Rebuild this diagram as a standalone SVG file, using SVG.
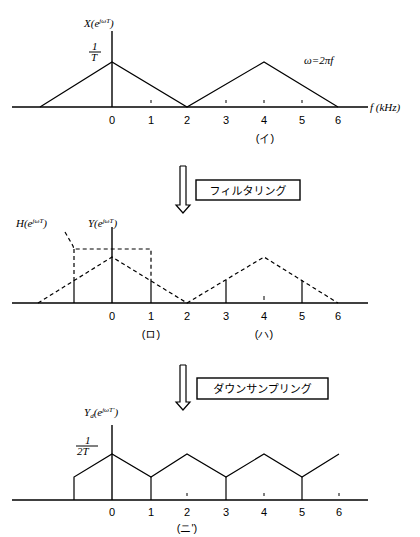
<svg xmlns="http://www.w3.org/2000/svg" width="420" height="537" viewBox="0 0 420 537">
<style>
.ax{stroke:#000;stroke-width:1.4;fill:none}
.ln{stroke:#000;stroke-width:1.2;fill:none}
.ds{stroke:#000;stroke-width:1.2;fill:none;stroke-dasharray:4,3}
.t{font-family:"Liberation Serif",serif;font-size:11px;fill:#000}
.m{font-family:"Liberation Serif",serif;font-style:italic;font-size:11px;fill:#000}
.n{font-family:"Liberation Sans",sans-serif;font-size:11px;fill:#000;text-anchor:middle}
.j{font-family:"Liberation Sans","Noto Sans CJK JP",sans-serif;font-size:11px;fill:#000}
.tk{stroke:#000;stroke-width:1}
</style>
<rect width="420" height="537" fill="#fff"/>

<g id="graph-a">
<line class="ax" x1="12" y1="107" x2="368" y2="107"/>
<line class="ax" x1="112" y1="31" x2="112" y2="107"/>
<polyline class="ln" points="40,107 112,62 187,107 264,62 338,107"/>
<g class="tk"><line x1="151" y1="100" x2="151" y2="103"/><line x1="226" y1="100" x2="226" y2="103"/><line x1="264" y1="100" x2="264" y2="103"/><line x1="302" y1="100" x2="302" y2="103"/></g>
<text class="m" x="84" y="27">X(e<tspan font-size="7" dy="-4">jωT</tspan><tspan dy="4">)</tspan></text>
<text class="m" x="92" y="50" font-size="9">1</text>
<line class="tk" x1="89" y1="52" x2="101" y2="52"/>
<text class="m" x="91" y="61" font-size="9">T</text>
<text class="m" x="304" y="64">ω=2πf</text>
<text class="m" x="370" y="111">f (kHz)</text>
<g class="n"><text x="112" y="124">0</text><text x="151" y="124">1</text><text x="187" y="124">2</text><text x="226" y="124">3</text><text x="264" y="124">4</text><text x="302" y="124">5</text><text x="338" y="124">6</text></g>
<text class="n" x="265" y="142">(イ)</text>
</g>

<g id="arrow-filter">
<path class="ln" d="M180,166 L186,166 M180,166 L180,205 L176,205 L183,213 L190,205 L186,205 L186,166"/>
<rect x="196" y="180" width="104" height="20" fill="none" stroke="#000" stroke-width="1.4"/>
<text class="j" x="248" y="194.5" text-anchor="middle">フィルタリング</text>
</g>

<g id="graph-b">
<line class="ax" x1="12" y1="303" x2="368" y2="303"/>
<line class="ax" x1="112" y1="227" x2="112" y2="303"/>
<polyline class="ds" points="38,303 112,257 187,303 264,257 338,303"/>
<polyline class="ds" points="65,232 73,246 74,249 151,249 151,280"/>
<line class="ds" x1="74" y1="249" x2="74" y2="280"/>
<g class="ln"><line x1="74" y1="280" x2="74" y2="303"/><line x1="151" y1="280" x2="151" y2="303"/><line x1="226" y1="280" x2="226" y2="303"/><line x1="302" y1="280" x2="302" y2="303"/></g>
<line class="tk" x1="264" y1="296" x2="264" y2="300"/>
<text class="m" x="16" y="227" font-size="10">H(e<tspan font-size="7" dy="-4">jωT</tspan><tspan dy="4">)</tspan></text>
<text class="m" x="88" y="227" font-size="10">Y(e<tspan font-size="7" dy="-4">jωT</tspan><tspan dy="4">)</tspan></text>
<g class="n"><text x="112" y="320">0</text><text x="151" y="320">1</text><text x="187" y="320">2</text><text x="226" y="320">3</text><text x="264" y="320">4</text><text x="302" y="320">5</text><text x="338" y="320">6</text></g>
<text class="n" x="151" y="338">(ロ)</text>
<text class="n" x="264" y="338">(ハ)</text>
</g>

<g id="arrow-down">
<path class="ln" d="M180,365 L186,365 M180,365 L180,402 L176,402 L183,410 L190,402 L186,402 L186,365"/>
<rect x="197" y="378" width="131" height="21" fill="none" stroke="#000" stroke-width="1.4"/>
<text class="j" x="262.5" y="392.5" text-anchor="middle">ダウンサンプリング</text>
</g>

<g id="graph-c">
<line class="ax" x1="12" y1="500" x2="368" y2="500"/>
<line class="ax" x1="112" y1="425" x2="112" y2="500"/>
<polyline class="ln" points="74,500 74,477 112,454 151,477 187,454 226,477 264,454 302,477 339,454"/>
<g class="ln"><line x1="151" y1="477" x2="151" y2="500"/><line x1="226" y1="477" x2="226" y2="500"/><line x1="302" y1="477" x2="302" y2="500"/></g>
<g class="tk"><line x1="187" y1="493" x2="187" y2="496"/><line x1="264" y1="493" x2="264" y2="496"/><line x1="339" y1="493" x2="339" y2="496"/></g>
<text class="m" x="84" y="416" font-size="10">Y<tspan font-size="7" dy="2">d</tspan><tspan dy="-2">(e</tspan><tspan font-size="7" dy="-4">jωT'</tspan><tspan dy="4">)</tspan></text>
<text class="m" x="85" y="444" font-size="8">1</text>
<line class="tk" x1="76" y1="446" x2="98" y2="446"/>
<text class="m" x="77" y="455" font-size="8">2T</text>
<g class="n"><text x="112" y="516">0</text><text x="151" y="516">1</text><text x="187" y="516">2</text><text x="226" y="516">3</text><text x="264" y="516">4</text><text x="302" y="516">5</text><text x="339" y="516">6</text></g>
<text class="n" x="187" y="532">(ニ')</text>
</g>
</svg>
